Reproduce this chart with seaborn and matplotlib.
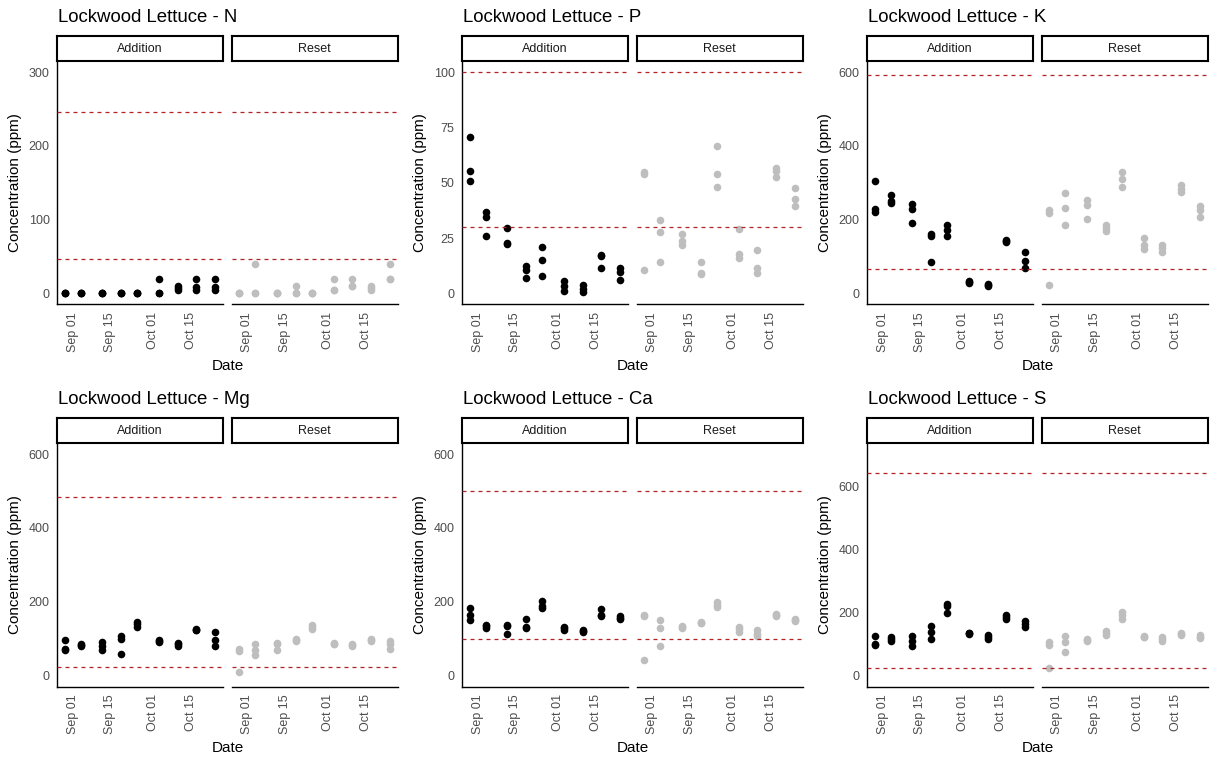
import matplotlib
matplotlib.use("Agg")
import matplotlib.pyplot as plt
import matplotlib.dates as mdates
import pandas as pd
import seaborn as sns

# sampling dates (three replicates per date)
dates = ["2021-08-29", "2021-09-04", "2021-09-12", "2021-09-19", "2021-09-25",
         "2021-10-03", "2021-10-10", "2021-10-17", "2021-10-24"]
tick_dates = ["2021-09-01", "2021-09-15", "2021-10-01", "2021-10-15"]

elements = ["N", "P", "K", "Mg", "Ca", "S"]
treatments = ["Addition", "Reset"]

n_addition = [[0, 0, 0], [0, 0, 0], [0, 0, 0], [0, 0, 0], [0, 0, 0],
              [20, 0, 0], [10, 7, 5], [20, 9, 5], [20, 9, 5]]
n_reset = [[0, 0, 0], [40, 0, 0], [0, 0, 0], [10, 0, 0], [0, 0, 0],
           [20, 5, 5], [20, 10, 10], [10, 7, 5], [40, 20, 20]]

p_addition = [[70.7, 55.3, 50.9], [36.6, 34.5, 26.1], [29.6, 23, 22.4],
              [12.6, 10.4, 6.9], [21.2, 14.9, 8.1], [5.6, 3.3, 1.2],
              [3.6, 2.1, 0.8], [17.3, 16.8, 11.3], [11.4, 9.8, 5.9]]
p_reset = [[54.8, 54, 10.4], [33.3, 27.9, 14], [27, 23.7, 21.8],
           [14, 9.3, 8.6], [66.7, 54, 48.2], [29.3, 17.6, 15.8],
           [19.4, 11.4, 9.3], [56.5, 55.3, 52.7], [47.6, 42.8, 39.6]]

k_addition = [[305, 228, 221], [268, 250, 246], [243, 230, 192],
              [161, 157, 86], [186, 171, 157], [34, 31, 29],
              [26, 23, 21], [145, 142, 140], [111, 87, 68]]
k_reset = [[225, 219, 24], [273, 232, 186], [252, 241, 202],
           [185, 177, 168], [328, 309, 289], [149, 132, 120],
           [131, 122, 111], [295, 283, 275], [238, 225, 207]]

mg_addition = [[97, 72, 70], [86, 82, 79], [90, 81, 69],
               [106, 99, 59], [146, 140, 132], [95, 93, 91],
               [88, 84, 81], [127, 124, 122], [117, 97, 81]]
mg_reset = [[71, 67, 8], [86, 70, 56], [87, 84, 68],
            [100, 96, 92], [136, 130, 125], [88, 86, 85],
            [86, 83, 80], [98, 95, 92], [92, 86, 72]]

ca_addition = [[184, 165, 151], [138, 133, 129], [138, 135, 111],
               [154, 132, 128], [203, 189, 183], [132, 128, 124],
               [124, 121, 119], [181, 165, 161], [162, 157, 153]]
ca_reset = [[165, 162, 43], [150, 129, 81], [135, 132, 129],
            [144, 142, 141], [198, 192, 186], [132, 126, 119],
            [122, 113, 106], [167, 164, 161], [153, 150, 147]]

s_addition = [[124, 100, 97], [121, 115, 108], [124, 111, 95],
              [156, 138, 115], [227, 220, 200], [135, 133, 134],
              [127, 122, 117], [192, 186, 181], [174, 165, 155]]
s_reset = [[105, 98, 25], [124, 105, 74], [116, 112, 108],
           [141, 135, 129], [201, 193, 179], [124, 122, 121],
           [123, 116, 110], [136, 131, 127], [128, 123, 118]]

# sufficiency range (low, high) per element
low_limits = [47, 30, 65, 22, 98, 25]
high_limits = [246, 100, 592, 484, 500, 645]

# upper extent of each y scale and tick step
y_tops = [300, 100, 600, 600, 600, 704]
y_steps = [100, 25, 200, 200, 200, 200]

values = {
    ("N", "Addition"): n_addition, ("N", "Reset"): n_reset,
    ("P", "Addition"): p_addition, ("P", "Reset"): p_reset,
    ("K", "Addition"): k_addition, ("K", "Reset"): k_reset,
    ("Mg", "Addition"): mg_addition, ("Mg", "Reset"): mg_reset,
    ("Ca", "Addition"): ca_addition, ("Ca", "Reset"): ca_reset,
    ("S", "Addition"): s_addition, ("S", "Reset"): s_reset,
}

rows = []
for (el, trt), reps in values.items():
    for d, vals in zip(dates, reps):
        for v in vals:
            rows.append({"element": el, "treatment": trt, "date": pd.Timestamp(d), "ppm": v})
df = pd.DataFrame(rows)

sns.set_style("white")
plt.rcParams["font.family"] = ["Liberation Sans", "DejaVu Sans"]

W, H = 1215, 765
fig = plt.figure(figsize=(W / 100, H / 100), dpi=100)


def px_axes(x0, y0, x1, y1):
    return fig.add_axes([x0 / W, 1 - y1 / H, (x1 - x0) / W, (y1 - y0) / H])


point_colors = {"Addition": "black", "Reset": "#BEBEBE"}
line_color = "#B22222"

d0 = pd.Timestamp(dates[0])
d1 = pd.Timestamp(dates[-1])
pad = (d1 - d0) * 0.05
xlim = (d0 - pad, d1 + pad)

panel_x = {"Addition": (57.3, 222.7), "Reset": (231.7, 397.7)}

for i, el in enumerate(elements):
    ox = (i % 3) * 405
    oy = (i // 3) * 382
    top = y_tops[i]
    ylim = (-0.05 * top, top * 1.05)

    for trt in treatments:
        x0, x1 = panel_x[trt]
        ax = px_axes(ox + x0, oy + 61, ox + x1, oy + 304.5)
        sub = df[(df["element"] == el) & (df["treatment"] == trt)]
        sns.scatterplot(data=sub, x="date", y="ppm", color=point_colors[trt],
                        s=30, linewidth=0, ax=ax, legend=False, zorder=2)
        for yv in (low_limits[i], high_limits[i]):
            ax.axhline(yv, color=line_color, lw=0.9, dashes=(3.2, 3.2), zorder=3)

        ax.set_xlim(xlim)
        ax.set_ylim(ylim)
        ax.set_xticks(pd.to_datetime(tick_dates))
        ax.xaxis.set_major_formatter(mdates.DateFormatter("%b %d"))
        ticks = list(range(0, int(top) + 1, y_steps[i]))
        ax.set_yticks(ticks)
        ax.set_xlabel("")
        ax.set_ylabel("")
        ax.tick_params(axis="x", rotation=90, labelsize=9, colors="#333333",
                       labelcolor="#4D4D4D", length=3.5, width=0.8, pad=2)
        ax.tick_params(axis="y", labelsize=9, colors="#333333",
                       labelcolor="#4D4D4D", length=3.5, width=0.8, pad=2)
        for s in ("top", "right"):
            ax.spines[s].set_visible(False)
        ax.spines["bottom"].set_linewidth(1.0)
        ax.spines["bottom"].set_color("black")
        if trt == "Reset":
            ax.spines["left"].set_visible(False)
            ax.tick_params(axis="y", left=False, labelleft=False)
        else:
            ax.spines["left"].set_linewidth(1.0)
            ax.spines["left"].set_color("black")

        # facet strip
        st = px_axes(ox + x0, oy + 36, ox + x1, oy + 61)
        st.set_xticks([])
        st.set_yticks([])
        for s in st.spines.values():
            s.set_linewidth(1.5)
            s.set_color("black")
        st.text(0.5, 0.5, trt, ha="center", va="center", fontsize=9,
                color="#1A1A1A", transform=st.transAxes)

    fig.text((ox + 58) / W, 1 - (oy + 17) / H, f"Lockwood Lettuce - {el}",
             ha="left", va="center", fontsize=13.4, color="black")
    fig.text((ox + 227.5) / W, 1 - (oy + 366) / H, "Date",
             ha="center", va="center", fontsize=11, color="black")
    fig.text((ox + 15) / W, 1 - (oy + 182.5) / H, "Concentration (ppm)",
             ha="center", va="center", rotation=90, fontsize=11, color="black")

fig.savefig("out.png", dpi=100)
